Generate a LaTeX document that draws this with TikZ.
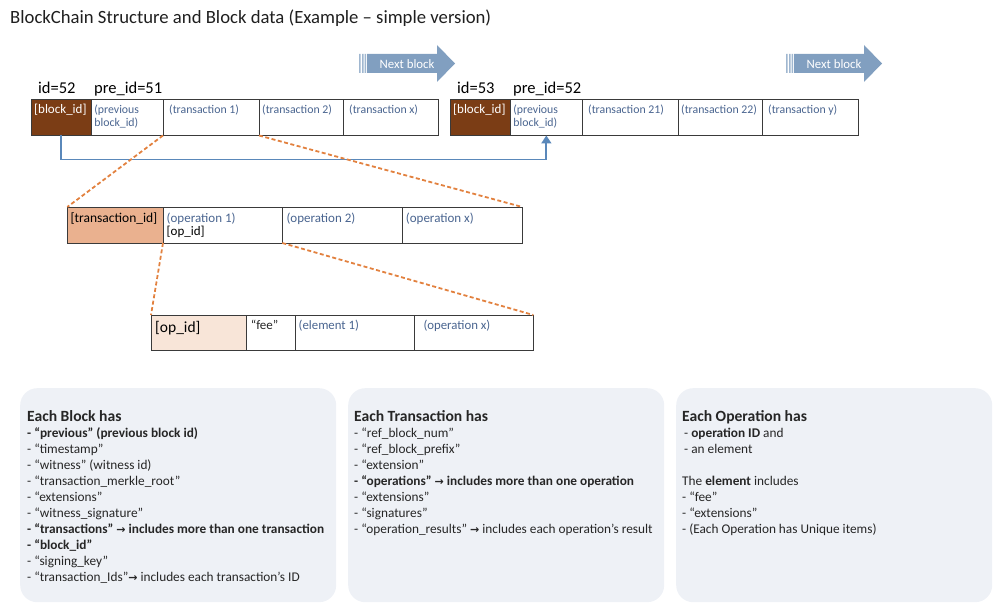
\documentclass[tikz,border=0pt]{standalone}
\usepackage{fontspec}
\setmainfont{Carlito}
\newfontfamily\arrowfont{DejaVu Sans}
\usetikzlibrary{arrows.meta}
\definecolor{brownid}{HTML}{7B3D15}
\definecolor{txid}{HTML}{EAB18F}
\definecolor{opidc}{HTML}{F8E5D8}
\definecolor{txtblue}{HTML}{4A6590}
\definecolor{nextblue}{HTML}{819FC0}
\definecolor{linkblue}{HTML}{5A88BA}
\definecolor{dashorange}{HTML}{E2813F}
\definecolor{boxfill}{HTML}{EEF1F6}
\definecolor{darktxt}{HTML}{262626}
\definecolor{cellline}{HTML}{3A3A3A}
\newcommand\cellat[6]{\node[cellbox,#6,minimum width={(#4)-(#2)},minimum height={(#5)-(#3)}] (#1) at (#2,#3) {};}
\newcommand\rarr{{\arrowfont\bfseries\fontsize{11}{16}\selectfont →}}
\begin{document}
\begin{tikzpicture}[x=1pt,y=-1pt,
  cellbox/.style={draw=cellline, line width=0.9pt, inner sep=0pt, outer sep=0pt, anchor=north west, fill=white},
  ctext/.style={anchor=base west, inner sep=0pt, text=txtblue, font=\fontsize{11.8}{13.5}\selectfont, align=left},
  btext/.style={anchor=base west, inner sep=0pt, text=black, font=\fontsize{16.5}{18}\selectfont},
  link/.style={draw=linkblue, line width=1.8pt, -{Triangle[width=10pt,length=8pt]}},
  zoomline/.style={draw=dashorange, line width=1.8pt, dash pattern=on 4pt off 2.5pt},
  infobox/.style={fill=boxfill, rounded corners=17pt, inner sep=0pt, anchor=north west},
  infotext/.style={anchor=north west, inner sep=0pt, align=left, text=darktxt, font=\fontsize{13.3}{16}\selectfont},
  nextlbl/.style={text=white, inner sep=0pt, font=\fontsize{12.8}{14}\selectfont}
]
\useasboundingbox (0,0) rectangle (994,604);

% title
\node[anchor=base west, inner sep=0pt, text=black!88, font=\fontsize{18.7}{21}\selectfont] (title) at (10,24) {BlockChain Structure and Block data (Example – simple version)};

% next block arrows
\fill[nextblue!75] (359,54) rectangle (360.5,73) (362,54) rectangle (363.5,73) (364.5,54) rectangle (366,73);
\fill[nextblue] (367,54) -- (437,54) -- (437,45) -- (455,63.5) -- (437,82) -- (437,73) -- (367,73) -- cycle;
\node[nextlbl] (nb1) at (407,64) {Next block};
\fill[nextblue!75] (786,54) rectangle (787.5,73) (789,54) rectangle (790.5,73) (791.5,54) rectangle (793,73);
\fill[nextblue] (794,54) -- (864,54) -- (864,45) -- (882,63.5) -- (864,82) -- (864,73) -- (794,73) -- cycle;
\node[nextlbl] (nb2) at (834,64) {Next block};

% block 1
\node[btext] (id1) at (38,94) {id=52};
\node[btext] (pre1) at (94,94) {pre\_id=51};
\cellat{b1id}{31}{99}{91.7}{135.5}{fill=brownid}
\cellat{b1prev}{91.7}{99}{163}{135.5}{}
\cellat{b1t1}{163}{99}{259}{135.5}{}
\cellat{b1t2}{259}{99}{343}{135.5}{}
\cellat{b1tx}{343}{99}{438.7}{135.5}{}
\node[ctext,text=white,font=\fontsize{13}{13}\selectfont] at ([xshift=3pt,yshift=-15pt]b1id.north west) {[block\_id]};
\node[ctext] at ([xshift=2.5pt,yshift=-28pt]b1prev.north west) {(previous\\block\_id)};
\node[ctext] at ([xshift=6pt,yshift=-14.3pt]b1t1.north west) {(transaction 1)};
\node[ctext] at ([xshift=3pt,yshift=-14.3pt]b1t2.north west) {(transaction 2)};
\node[ctext] at ([xshift=6pt,yshift=-14.3pt]b1tx.north west) {(transaction x)};

% block 2
\node[btext] (id2) at (457,94) {id=53};
\node[btext] (pre2) at (513,94) {pre\_id=52};
\cellat{b2id}{450}{99}{510.7}{135.5}{fill=brownid}
\cellat{b2prev}{510.7}{99}{582}{135.5}{}
\cellat{b2t1}{582}{99}{678}{135.5}{}
\cellat{b2t2}{678}{99}{762}{135.5}{}
\cellat{b2tx}{762}{99}{858}{135.5}{}
\node[ctext,text=white,font=\fontsize{13}{13}\selectfont] at ([xshift=3pt,yshift=-15pt]b2id.north west) {[block\_id]};
\node[ctext] at ([xshift=2.5pt,yshift=-28pt]b2prev.north west) {(previous\\block\_id)};
\node[ctext] at ([xshift=6pt,yshift=-14.3pt]b2t1.north west) {(transaction 21)};
\node[ctext] at ([xshift=3pt,yshift=-14.3pt]b2t2.north west) {(transaction 22)};
\node[ctext] at ([xshift=6pt,yshift=-14.3pt]b2tx.north west) {(transaction y)};

% link block 1 -> block 2
\draw[link] (b1id.south) -- ++(0,24) -| (b2prev.south);

% transaction row
\cellat{tid}{67.3}{207}{163}{243}{fill=txid}
\cellat{top1}{163}{207}{282.3}{243}{}
\cellat{top2}{282.3}{207}{402.7}{243}{}
\cellat{topx}{402.7}{207}{522.3}{243}{}
\node[ctext,text=black,font=\fontsize{13.5}{13}\selectfont] at ([xshift=3pt,yshift=-16pt]tid.north west) {[transaction\_id]};
\node[ctext,font=\fontsize{13}{12.5}\selectfont] at ([xshift=3.5pt,yshift=-15.8pt]top1.north west) {(operation 1)};
\node[ctext,text=black,font=\fontsize{13}{12.5}\selectfont] at ([xshift=3.5pt,yshift=-28.5pt]top1.north west) {[op\_id]};
\node[ctext,font=\fontsize{13}{13}\selectfont] at ([xshift=4pt,yshift=-15.8pt]top2.north west) {(operation 2)};
\node[ctext,font=\fontsize{13}{13}\selectfont] at ([xshift=3pt,yshift=-15.8pt]topx.north west) {(operation x)};

% operation row
\cellat{opid}{151}{315}{246.7}{350.7}{fill=opidc}
\cellat{ofee}{246.7}{315}{295}{350.7}{}
\cellat{oel}{295}{315}{414.3}{350.7}{}
\cellat{opx}{414.3}{315}{533.3}{350.7}{}
\node[ctext,text=black,font=\fontsize{15.5}{16}\selectfont] at ([xshift=4pt,yshift=-17.5pt]opid.north west) {[op\_id]};
\node[ctext,text=darktxt,font=\fontsize{13}{13}\selectfont] at ([xshift=4pt,yshift=-15pt]ofee.north west) {“fee”};
\node[ctext,font=\fontsize{12.8}{13}\selectfont] at ([xshift=3.5pt,yshift=-15pt]oel.north west) {(element 1)};
\node[ctext,font=\fontsize{12.8}{13}\selectfont] at ([xshift=9pt,yshift=-15pt]opx.north west) {(operation x)};

% zoom lines
\draw[zoomline] (b1t1.south west) -- (tid.north west);
\draw[zoomline] (b1t1.south east) -- (topx.north east);
\draw[zoomline] (top1.south west) -- (opid.north west);
\draw[zoomline] (top1.south east) -- (opx.north east);

% info boxes
\node[infobox, minimum width=316, minimum height=214] (box1) at (20,388) {};
\node[infobox, minimum width=316, minimum height=214] (box2) at (348,388) {};
\node[infobox, minimum width=316, minimum height=214] (box3) at (676,388) {};

\node[infotext] (t1) at (27,410) {{\fontsize{15.6}{16}\selectfont\bfseries Each Block has}\\[0.5pt]
\textbf{- “previous” (previous block id)}\\
- “timestamp”\\
- “witness” (witness id)\\
- “transaction\_merkle\_root”\\
- “extensions”\\
- “witness\_signature”\\
\textbf{- “transactions” \rarr{} includes more than one transaction}\\
\textbf{- “block\_id”}\\
- “signing\_key”\\
- “transaction\_Ids”\rarr{} includes each transaction’s ID};

\node[infotext] (t2) at (354,410) {{\fontsize{15.6}{16}\selectfont\bfseries Each Transaction has}\\[0.5pt]
- “ref\_block\_num”\\
- “ref\_block\_prefix”\\
- “extension”\\
\textbf{- “operations” \rarr{} includes more than one operation}\\
- “extensions”\\
- “signatures”\\
- “operation\_results” \rarr{} includes each operation’s result};

\node[infotext] (t3) at (682,410) {{\fontsize{15.6}{16}\selectfont\bfseries Each Operation has}\\[0.5pt]
\hspace{2pt}- \textbf{operation ID} and\\
\hspace{2pt}- an element\\
\mbox{}\\
The \textbf{element} includes\\
- “fee”\\
- “extensions”\\
- (Each Operation has Unique items)};
\end{tikzpicture}
\end{document}
